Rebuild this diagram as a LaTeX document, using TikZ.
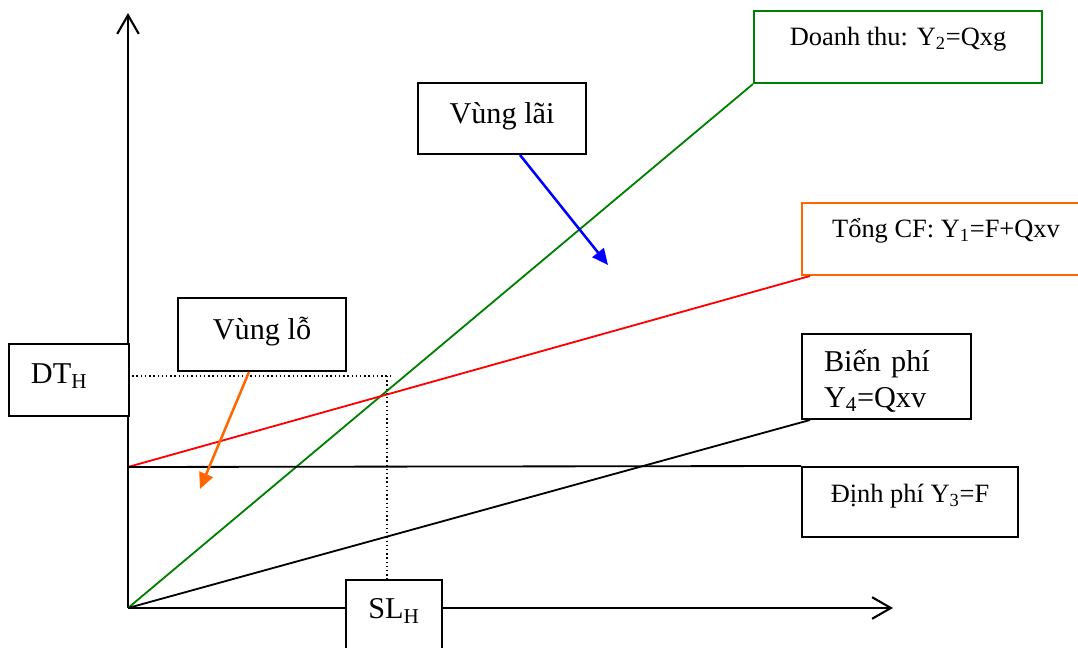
\documentclass[tikz,border=0pt]{standalone}
\usepackage{fontspec}
\setmainfont{Liberation Serif}
\usetikzlibrary{arrows.meta}
\definecolor{dgreen}{RGB}{0,128,0}
\definecolor{orng}{RGB}{255,102,0}
\newcommand{\bigtxt}{\fontsize{21.5}{25}\selectfont}
\newcommand{\smalltxt}{\fontsize{18.8}{22}\selectfont}
\tikzset{hop/.style={draw,fill=white,line width=1.4pt,inner xsep=0pt,inner ysep=0pt,anchor=north west}}
\begin{document}
\begin{tikzpicture}[x=0.025cm,y=-0.025cm,line width=1.3pt,
	axis/.style={-{Straight Barb[length=4.7mm,width=5.4mm]},line width=1.5pt},
	pointer/.style={-{Triangle[length=4mm,width=3.6mm]},line width=1.8pt}]
		\useasboundingbox (0,0) rectangle (1078,648);
		\clip (0,0) rectangle (1078,648);
		\coordinate (O) at (128,608);
		\coordinate (F) at (128,467);
		\coordinate (H) at (387,376);
		\coordinate (xend) at (893,608);
		\coordinate (yend) at (128,13);
		\coordinate (laiend) at (608,265);
		\coordinate (loend) at (200,489);
		\draw[axis] (O) -- (xend);
		\draw[axis] (O) -- (yend);
		\node[hop,draw=dgreen,font=\smalltxt,minimum width=7.2cm,text height=0.875cm,text depth=0.925cm] (dt2) at (753,10) {Doanh thu: Y\textsubscript{2}=Qxg};
		\node[hop,draw=orng,font=\smalltxt,minimum width=7.2cm,text height=0.875cm,text depth=0.925cm] (cf) at (801,202) {Tổng CF: Y\textsubscript{1}=F+Qxv};
		\node[hop,font=\bigtxt,minimum width=4.2cm,text height=1.025cm,text depth=0.75cm] (lai) at (417,82) {Vùng lãi};
		\node[hop,font=\bigtxt,minimum width=4.2cm,text height=1.05cm,text depth=0.775cm] (lo) at (177,297) {Vùng lỗ};
		\node[hop,font=\bigtxt,inner xsep=0.55cm,text width=1.9cm,align=left,text height=1cm,text depth=0.8cm] (dth) at (8,343) {DT\textsubscript{H}};
		\node[hop,font=\bigtxt,minimum width=2.4cm,text height=0.975cm,text depth=0.8cm] (slh) at (345,579) {SL\textsubscript{H}};
		\node[hop,font=\bigtxt,inner xsep=0.55cm,text width=3.125cm,align=left,text height=0.95cm,text depth=1.175cm] (bp) at (801,333) {Biến phí\\Y\textsubscript{4}=Qxv};
		\node[hop,font=\smalltxt,minimum width=5.4cm,text height=0.9cm,text depth=0.85cm] (dp) at (801,466) {Định phí Y\textsubscript{3}=F};
		\draw[dgreen] (O) -- (dt2.south west);
		\draw[red] (F) -- ([xshift=0.225cm]cf.south west);
		\draw (O) -- ([xshift=0.225cm]bp.south west);
		\draw (F) -- (dp.north west);
		\draw[dotted,line width=1pt] (O |- H) -- ([xshift=0.15cm]H) (H) -- (H |- slh.north);
		\draw[pointer,blue] ([xshift=0.45cm]lai.south) -- (laiend);
		\draw[pointer,orng] ([xshift=-0.325cm]lo.south) -- (loend);
		\end{tikzpicture}
\end{document}
